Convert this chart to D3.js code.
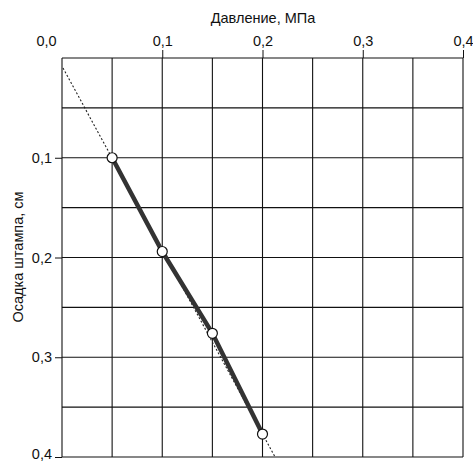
<!DOCTYPE html>
<html>
<head>
<meta charset="utf-8">
<script src="https://cdn.jsdelivr.net/npm/d3@7"></script>
<style>
	body{margin:0;background:#fff;}
	svg{display:block;font-family:Arial,"Liberation Sans",sans-serif;}
</style>
</head>
<body>
<svg width="473" height="462"></svg>
<script>
// давление, МПа
var pressure = [0.05, 0.10, 0.15, 0.20];
// осадка штампа, см
var settlement = [0.100, 0.194, 0.276, 0.377];
// пунктирная линия тренда
var trendX = [0.001, 0.2125];
var trendY = [0.010, 0.400];
var xTicks = [0, 0.1, 0.2, 0.3, 0.4];
var yTicks = [0.1, 0.2, 0.3, 0.4];
var gridSteps = [0, 0.05, 0.1, 0.15, 0.2, 0.25, 0.3, 0.35, 0.4];

var svg = d3.select('svg');
var x = d3.scaleLinear().domain([0, 0.4]).range([62, 463]);
var y = d3.scaleLinear().domain([0, 0.4]).range([58, 457]);
var fmt = function(d){ return d3.format('.1f')(d).replace('.', ','); };

// сетка
var grid = svg.append('g').attr('stroke', '#111').attr('stroke-width', 1.1);
grid.selectAll('.vx').data(gridSteps).enter().append('line')
	.attr('x1', d => x(d)).attr('x2', d => x(d))
	.attr('y1', y(0)).attr('y2', y(0.4));
grid.selectAll('.hy').data(gridSteps).enter().append('line')
	.attr('x1', x(0)).attr('x2', x(0.4))
	.attr('y1', d => y(d)).attr('y2', d => y(d));

// оси
var xAxis = d3.axisTop(x).tickValues(xTicks).tickSize(8).tickFormat(fmt);
var gx = svg.append('g').attr('transform', 'translate(0,' + y(0) + ')').call(xAxis);
gx.select('.domain').remove();
gx.selectAll('line').attr('stroke', '#111');
gx.selectAll('text').attr('font-size', 14.5).attr('fill', '#111').attr('dy', '-0.1em');
gx.selectAll('.tick').filter(d => d === 0).select('line').remove();
gx.selectAll('.tick').filter(d => d === 0).select('text').attr('x', -16);

var yAxis = d3.axisLeft(y).tickValues(yTicks).tickSize(7).tickFormat(fmt);
var gy = svg.append('g').attr('transform', 'translate(' + x(0) + ',0)').call(yAxis);
gy.select('.domain').remove();
gy.selectAll('line').attr('stroke', '#111');
gy.selectAll('text').attr('font-size', 14.5).attr('fill', '#111').attr('x', -10);
gy.selectAll('.tick').filter(d => d === 0.4).select('text').attr('dy', '0.1em');

// подписи осей
svg.append('text').attr('x', 263).attr('y', 23).attr('text-anchor', 'middle')
	.attr('font-size', 14.5).attr('fill', '#111').text('Давление, МПа');
svg.append('text').attr('transform', 'translate(23,257) rotate(-90)')
	.attr('text-anchor', 'middle').attr('font-size', 14.5).attr('fill', '#111')
	.text('Осадка штампа, см');

// пунктир
var line = d3.line().x(d => x(d[0])).y(d => y(d[1]));
svg.append('path').datum(d3.zip(trendX, trendY)).attr('d', line)
	.attr('fill', 'none').attr('stroke', '#222').attr('stroke-width', 1.1)
	.attr('stroke-dasharray', '2,2');

// основная линия
var pts = d3.zip(pressure, settlement);
svg.append('path').datum(pts).attr('d', line)
	.attr('fill', 'none').attr('stroke', '#333').attr('stroke-width', 4.5);

svg.selectAll('circle').data(pts).enter().append('circle')
	.attr('cx', d => x(d[0])).attr('cy', d => y(d[1])).attr('r', 5)
	.attr('fill', '#fff').attr('stroke', '#111').attr('stroke-width', 1.2);
</script>
</body>
</html>
